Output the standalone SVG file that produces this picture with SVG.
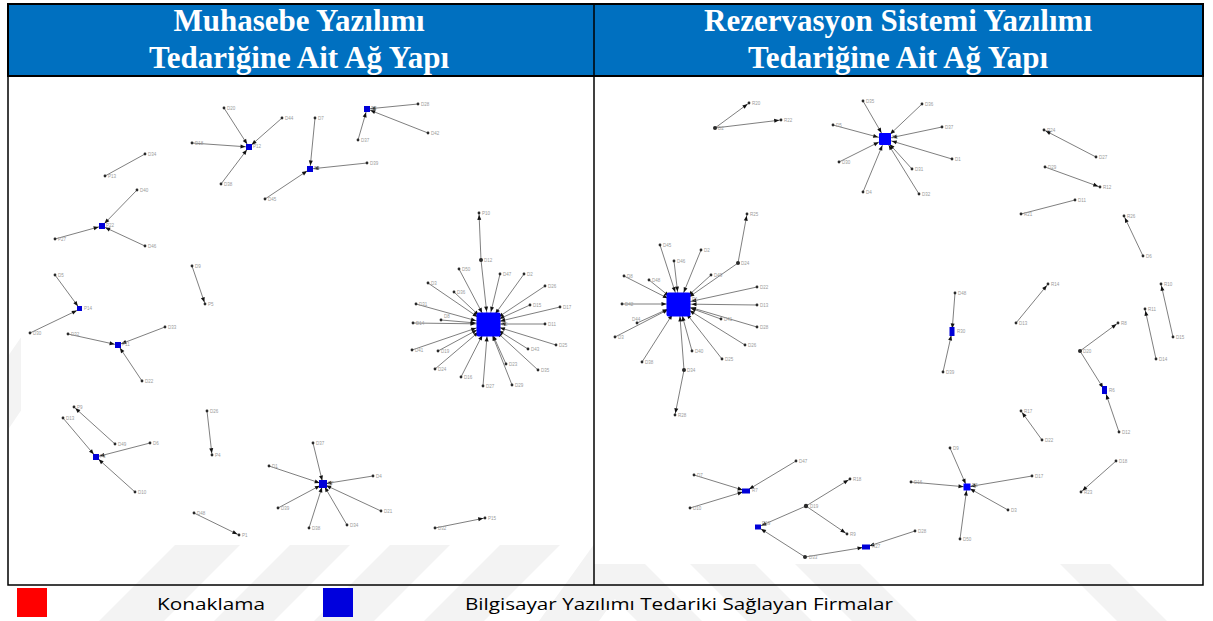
<svg xmlns="http://www.w3.org/2000/svg" width="1213" height="621" viewBox="0 0 1213 621">
<style>
.hd{font-family:"Liberation Serif","Times New Roman",serif;font-weight:bold;font-size:31px;fill:#fff;text-anchor:middle}
.lg{font-family:"Open Sans","Noto Sans","Liberation Sans",sans-serif;font-size:17px;fill:#000}
#connectors line{stroke:#707070;stroke-width:0.9}
.n circle{fill:#2a2a2a}
.n text{font-family:"Liberation Sans",Arial,sans-serif;font-size:4.5px;fill:#9a9a9a}
.hb{fill:#0000d8}
.bg{fill:#0000ff}
.rd{fill:#b02a2a}
.wm{fill:#f3f3f3}
</style>
<defs>
<marker id="a" markerUnits="userSpaceOnUse" markerWidth="10" markerHeight="10" refX="1.8" refY="0" orient="auto" overflow="visible"><path d="M0,0 L-5,-2 L-5,2 z" fill="#111"/></marker>
<marker id="am" markerUnits="userSpaceOnUse" markerWidth="10" markerHeight="10" refX="3.5" refY="0" orient="auto" overflow="visible"><path d="M0,0 L-5,-2 L-5,2 z" fill="#111"/></marker>
<marker id="aq" markerUnits="userSpaceOnUse" markerWidth="10" markerHeight="10" refX="7" refY="0" orient="auto" overflow="visible"><path d="M0,0 L-5,-2 L-5,2 z" fill="#111"/></marker>
<marker id="ab" markerUnits="userSpaceOnUse" markerWidth="10" markerHeight="10" refX="12.5" refY="0" orient="auto" overflow="visible"><path d="M0,0 L-5,-2 L-5,2 z" fill="#111"/></marker>
<clipPath id="wmclip">
<rect x="8" y="545" width="586" height="40"/>
<rect x="585" y="300" width="9" height="285"/>
<rect x="594" y="564" width="609" height="21"/>
<rect x="0" y="585" width="1213" height="36"/>
<rect x="9" y="292" width="12" height="253"/>
</clipPath>
</defs>
<rect x="0" y="0" width="1213" height="621" fill="#fff"/>
<g id="watermark" clip-path="url(#wmclip)">
<polygon class="wm" points="175,545 240,545 164,621 99,621"/>
<polygon class="wm" points="290,545 350,545 274,621 214,621"/>
<polygon class="wm" points="390,545 450,545 374,621 314,621"/>
<polygon class="wm" points="500,545 560,545 484,621 424,621"/>
<polygon class="wm" points="615,515 675,515 599,621 539,621"/>
<polygon class="wm" points="60,280 110,280 -40,500 -90,500"/>
<polygon class="wm" points="580,564 645,564 702,621 637,621"/>
<polygon class="wm" points="690,564 755,564 812,621 747,621"/>
<polygon class="wm" points="795,564 860,564 917,621 852,621"/>
<polygon class="wm" points="1060,564 1110,564 1167,621 1117,621"/>
</g>
<g id="frame">
<rect x="8" y="4" width="1195" height="72" fill="#0070c0" stroke="#000" stroke-width="2"/>
<rect x="8" y="76" width="1195" height="509" fill="none" stroke="#000" stroke-width="1.5"/>
<line x1="594" y1="4" x2="594" y2="585" stroke="#000" stroke-width="1.5"/>
</g>
<g id="header">
<text class="hd" x="299" y="31">Muhasebe Yazılımı</text>
<text class="hd" x="299" y="68">Tedariğine Ait Ağ Yapı</text>
<text class="hd" x="898" y="31">Rezervasyon Sistemi Yazılımı</text>
<text class="hd" x="898" y="68">Tedariğine Ait Ağ Yapı</text>
</g>
<g id="connectors">
<line x1="224" y1="108" x2="249" y2="147" marker-end="url(#am)"/>
<line x1="282" y1="118" x2="249" y2="147" marker-end="url(#am)"/>
<line x1="192" y1="143" x2="249" y2="147" marker-end="url(#am)"/>
<line x1="221" y1="184" x2="249" y2="147" marker-end="url(#am)"/>
<line x1="105" y1="176" x2="145" y2="154"/>
<line x1="137" y1="190" x2="102" y2="226" marker-end="url(#am)"/>
<line x1="55" y1="239" x2="102" y2="226" marker-end="url(#am)"/>
<line x1="145" y1="246" x2="102" y2="226" marker-end="url(#am)"/>
<line x1="192" y1="266" x2="205" y2="304" marker-end="url(#a)"/>
<line x1="55" y1="275" x2="80" y2="309" marker-end="url(#am)"/>
<line x1="30" y1="333" x2="80" y2="309" marker-end="url(#am)"/>
<line x1="68" y1="334" x2="118" y2="345" marker-end="url(#am)"/>
<line x1="165" y1="327" x2="118" y2="345" marker-end="url(#am)"/>
<line x1="142" y1="381" x2="118" y2="345" marker-end="url(#am)"/>
<line x1="315" y1="118" x2="310" y2="169" marker-end="url(#am)"/>
<line x1="367" y1="163" x2="310" y2="169" marker-end="url(#am)"/>
<line x1="265" y1="199" x2="310" y2="169" marker-end="url(#am)"/>
<line x1="418" y1="104" x2="367" y2="109" marker-end="url(#am)"/>
<line x1="428" y1="133" x2="367" y2="109" marker-end="url(#am)"/>
<line x1="358" y1="140" x2="367" y2="109" marker-end="url(#am)"/>
<line x1="481" y1="260" x2="479" y2="213" marker-end="url(#a)"/>
<line x1="481" y1="260" x2="488" y2="324" marker-end="url(#ab)"/>
<line x1="459" y1="269" x2="488" y2="324" marker-end="url(#ab)"/>
<line x1="500" y1="274" x2="488" y2="324" marker-end="url(#ab)"/>
<line x1="524" y1="274" x2="488" y2="324" marker-end="url(#ab)"/>
<line x1="545" y1="286" x2="488" y2="324" marker-end="url(#ab)"/>
<line x1="428" y1="283" x2="488" y2="324" marker-end="url(#ab)"/>
<line x1="454" y1="292" x2="488" y2="324" marker-end="url(#ab)"/>
<line x1="416" y1="304" x2="488" y2="324" marker-end="url(#ab)"/>
<line x1="530" y1="305" x2="488" y2="324" marker-end="url(#ab)"/>
<line x1="560" y1="307" x2="488" y2="324" marker-end="url(#ab)"/>
<line x1="441" y1="320" x2="488" y2="324" marker-end="url(#ab)"/>
<line x1="413" y1="323" x2="488" y2="324" marker-end="url(#ab)"/>
<line x1="545" y1="324" x2="488" y2="324" marker-end="url(#ab)"/>
<line x1="412" y1="350" x2="488" y2="324" marker-end="url(#ab)"/>
<line x1="438" y1="351" x2="488" y2="324" marker-end="url(#ab)"/>
<line x1="435" y1="369" x2="488" y2="324" marker-end="url(#ab)"/>
<line x1="461" y1="377" x2="488" y2="324" marker-end="url(#ab)"/>
<line x1="483" y1="386" x2="488" y2="324" marker-end="url(#ab)"/>
<line x1="512" y1="385" x2="488" y2="324" marker-end="url(#ab)"/>
<line x1="506" y1="364" x2="488" y2="324" marker-end="url(#ab)"/>
<line x1="538" y1="370" x2="488" y2="324" marker-end="url(#ab)"/>
<line x1="528" y1="349" x2="488" y2="324" marker-end="url(#ab)"/>
<line x1="556" y1="345" x2="488" y2="324" marker-end="url(#ab)"/>
<line x1="115" y1="444" x2="74" y2="407" marker-end="url(#a)"/>
<line x1="63" y1="418" x2="96" y2="457" marker-end="url(#am)"/>
<line x1="150" y1="443" x2="96" y2="457" marker-end="url(#am)"/>
<line x1="135" y1="492" x2="96" y2="457" marker-end="url(#am)"/>
<line x1="207" y1="411" x2="212" y2="455" marker-end="url(#a)"/>
<line x1="194" y1="513" x2="239" y2="535" marker-end="url(#a)"/>
<line x1="313" y1="443" x2="323" y2="484" marker-end="url(#am)"/>
<line x1="269" y1="466" x2="323" y2="484" marker-end="url(#am)"/>
<line x1="373" y1="476" x2="323" y2="484" marker-end="url(#am)"/>
<line x1="278" y1="508" x2="323" y2="484" marker-end="url(#am)"/>
<line x1="309" y1="528" x2="323" y2="484" marker-end="url(#am)"/>
<line x1="347" y1="525" x2="323" y2="484" marker-end="url(#am)"/>
<line x1="381" y1="511" x2="323" y2="484" marker-end="url(#am)"/>
<line x1="435" y1="528" x2="485" y2="518" marker-end="url(#a)"/>
<line x1="715" y1="128" x2="749" y2="103" marker-end="url(#a)"/>
<line x1="715" y1="128" x2="781" y2="120" marker-end="url(#a)"/>
<line x1="863" y1="101" x2="885" y2="139" marker-end="url(#aq)"/>
<line x1="922" y1="104" x2="885" y2="139" marker-end="url(#aq)"/>
<line x1="833" y1="125" x2="885" y2="139" marker-end="url(#aq)"/>
<line x1="942" y1="127" x2="885" y2="139" marker-end="url(#aq)"/>
<line x1="952" y1="159" x2="885" y2="139" marker-end="url(#aq)"/>
<line x1="839" y1="162" x2="885" y2="139" marker-end="url(#aq)"/>
<line x1="912" y1="169" x2="885" y2="139" marker-end="url(#aq)"/>
<line x1="919" y1="194" x2="885" y2="139" marker-end="url(#aq)"/>
<line x1="863" y1="192" x2="885" y2="139" marker-end="url(#aq)"/>
<line x1="738" y1="263" x2="747" y2="214" marker-end="url(#a)"/>
<line x1="738" y1="263" x2="679" y2="304" marker-end="url(#ab)"/>
<line x1="684" y1="370" x2="675" y2="415" marker-end="url(#a)"/>
<line x1="684" y1="370" x2="679" y2="304" marker-end="url(#ab)"/>
<line x1="660" y1="245" x2="679" y2="304" marker-end="url(#ab)"/>
<line x1="674" y1="261" x2="679" y2="304" marker-end="url(#ab)"/>
<line x1="701" y1="250" x2="679" y2="304" marker-end="url(#ab)"/>
<line x1="711" y1="275" x2="679" y2="304" marker-end="url(#ab)"/>
<line x1="624" y1="276" x2="679" y2="304" marker-end="url(#ab)"/>
<line x1="649" y1="280" x2="679" y2="304" marker-end="url(#ab)"/>
<line x1="757" y1="287" x2="679" y2="304" marker-end="url(#ab)"/>
<line x1="622" y1="304" x2="679" y2="304" marker-end="url(#ab)"/>
<line x1="757" y1="305" x2="679" y2="304" marker-end="url(#ab)"/>
<line x1="757" y1="327" x2="679" y2="304" marker-end="url(#ab)"/>
<line x1="637" y1="323" x2="679" y2="304" marker-end="url(#ab)"/>
<line x1="721" y1="319" x2="679" y2="304" marker-end="url(#ab)"/>
<line x1="615" y1="337" x2="679" y2="304" marker-end="url(#ab)"/>
<line x1="642" y1="362" x2="679" y2="304" marker-end="url(#ab)"/>
<line x1="692" y1="351" x2="679" y2="304" marker-end="url(#ab)"/>
<line x1="722" y1="359" x2="679" y2="304" marker-end="url(#ab)"/>
<line x1="745" y1="345" x2="679" y2="304" marker-end="url(#ab)"/>
<line x1="694" y1="475" x2="746" y2="491" marker-end="url(#am)"/>
<line x1="796" y1="461" x2="746" y2="491" marker-end="url(#am)"/>
<line x1="690" y1="508" x2="746" y2="491" marker-end="url(#am)"/>
<line x1="806" y1="506" x2="850" y2="479" marker-end="url(#a)"/>
<line x1="806" y1="506" x2="847" y2="534" marker-end="url(#a)"/>
<line x1="806" y1="506" x2="758" y2="527" marker-end="url(#am)"/>
<line x1="805" y1="557" x2="758" y2="527" marker-end="url(#am)"/>
<line x1="805" y1="557" x2="866" y2="547" marker-end="url(#am)"/>
<line x1="915" y1="531" x2="866" y2="547" marker-end="url(#am)"/>
<line x1="950" y1="448" x2="967" y2="487" marker-end="url(#am)"/>
<line x1="911" y1="482" x2="967" y2="487" marker-end="url(#am)"/>
<line x1="1032" y1="476" x2="967" y2="487" marker-end="url(#am)"/>
<line x1="1008" y1="510" x2="967" y2="487" marker-end="url(#am)"/>
<line x1="960" y1="539" x2="967" y2="487" marker-end="url(#am)"/>
<line x1="1042" y1="440" x2="1021" y2="411" marker-end="url(#a)"/>
<line x1="1116" y1="461" x2="1081" y2="492" marker-end="url(#a)"/>
<line x1="1080" y1="351" x2="1118" y2="323" marker-end="url(#a)"/>
<line x1="1080" y1="351" x2="1105" y2="391" marker-end="url(#am)"/>
<line x1="1119" y1="432" x2="1105" y2="391" marker-end="url(#am)"/>
<line x1="1173" y1="337" x2="1161" y2="284" marker-end="url(#a)"/>
<line x1="1156" y1="359" x2="1145" y2="309" marker-end="url(#a)"/>
<line x1="955" y1="293" x2="952" y2="332" marker-end="url(#am)"/>
<line x1="943" y1="372" x2="952" y2="332" marker-end="url(#am)"/>
<line x1="1096" y1="157" x2="1044" y2="130" marker-end="url(#a)"/>
<line x1="1045" y1="167" x2="1100" y2="187" marker-end="url(#a)"/>
<line x1="1075" y1="200" x2="1021" y2="214"/>
<line x1="1143" y1="256" x2="1124" y2="216" marker-end="url(#a)"/>
<line x1="1016" y1="323" x2="1048" y2="284" marker-end="url(#a)"/>
</g>
<g id="nodes-left">
<g class="n" id="L-P12"><rect class="hb" x="246" y="144" width="6" height="6"/><text x="253" y="148">P12</text></g>
<g class="n" id="L-D20"><circle cx="224" cy="108" r="1.4"/><text x="227" y="109.5">D20</text></g>
<g class="n" id="L-D44"><circle cx="282" cy="118" r="1.4"/><text x="285" y="119.5">D44</text></g>
<g class="n" id="L-D18"><circle cx="192" cy="143" r="1.4"/><text x="195" y="144.5">D18</text></g>
<g class="n" id="L-D38a"><circle cx="221" cy="184" r="1.4"/><text x="224" y="185.5">D38</text></g>
<g class="n" id="L-P13"><circle cx="105" cy="176" r="1.4"/><text x="108" y="177.5">P13</text></g>
<g class="n" id="L-D34a"><circle cx="145" cy="154" r="1.4"/><text x="148" y="155.5">D34</text></g>
<g class="n" id="L-P22"><rect class="hb" x="99" y="223" width="6" height="6"/><text x="106" y="227">P22</text></g>
<g class="n" id="L-D40"><circle cx="137" cy="190" r="1.4"/><text x="140" y="191.5">D40</text></g>
<g class="n" id="L-D27a"><circle cx="55" cy="239" r="1.4"/><text x="58" y="240.5">P27</text></g>
<g class="n" id="L-D46"><circle cx="145" cy="246" r="1.4"/><text x="148" y="247.5">D46</text></g>
<g class="n" id="L-D9"><circle cx="192" cy="266" r="1.4"/><text x="195" y="267.5">D9</text></g>
<g class="n" id="L-P5"><circle cx="205" cy="304" r="1.4"/><text x="208" y="305.5">P5</text></g>
<g class="n" id="L-P14"><rect class="hb" x="77" y="306" width="5" height="5"/><text x="84" y="310">P14</text></g>
<g class="n" id="L-D5"><circle cx="55" cy="275" r="1.4"/><text x="58" y="276.5">D5</text></g>
<g class="n" id="L-D30"><circle cx="30" cy="333" r="1.4"/><text x="33" y="334.5">D30</text></g>
<g class="n" id="L-P11"><rect class="hb" x="115" y="342" width="6" height="6"/><text x="122" y="346">P11</text></g>
<g class="n" id="L-D32a"><circle cx="68" cy="334" r="1.4"/><text x="71" y="335.5">D32</text></g>
<g class="n" id="L-D33"><circle cx="165" cy="327" r="1.4"/><text x="168" y="328.5">D33</text></g>
<g class="n" id="L-D22"><circle cx="142" cy="381" r="1.4"/><text x="145" y="382.5">D22</text></g>
<g class="n" id="L-P6"><rect class="hb" x="307" y="166" width="6" height="6"/><text x="314" y="170">P6</text></g>
<g class="n" id="L-D7"><circle cx="315" cy="118" r="1.4"/><text x="318" y="119.5">D7</text></g>
<g class="n" id="L-D39a"><circle cx="367" cy="163" r="1.4"/><text x="370" y="164.5">D39</text></g>
<g class="n" id="L-D45"><circle cx="265" cy="199" r="1.4"/><text x="268" y="200.5">D45</text></g>
<g class="n" id="L-P8"><rect class="hb" x="364" y="106" width="6" height="6"/><text x="371" y="110">P8</text></g>
<g class="n" id="L-D28"><circle cx="418" cy="104" r="1.4"/><text x="421" y="105.5">D28</text></g>
<g class="n" id="L-D42"><circle cx="428" cy="133" r="1.4"/><text x="431" y="134.5">D42</text></g>
<g class="n" id="L-D37a"><circle cx="358" cy="140" r="1.4"/><text x="361" y="141.5">D37</text></g>
<g class="n" id="L-P10"><circle cx="479" cy="213" r="1.4"/><text x="482" y="214.5">P10</text></g>
<g class="n" id="L-D12"><circle class="rd" cx="481" cy="260" r="2"/><text x="484" y="261.5">D12</text></g>
<g class="n" id="L-D50"><circle cx="459" cy="269" r="1.4"/><text x="462" y="270.5">D50</text></g>
<g class="n" id="L-D47"><circle cx="500" cy="274" r="1.4"/><text x="503" y="275.5">D47</text></g>
<g class="n" id="L-D2"><circle cx="524" cy="274" r="1.4"/><text x="527" y="275.5">D2</text></g>
<g class="n" id="L-D26a"><circle cx="545" cy="286" r="1.4"/><text x="548" y="287.5">D26</text></g>
<g class="n" id="L-D3"><circle cx="428" cy="283" r="1.4"/><text x="431" y="284.5">D3</text></g>
<g class="n" id="L-D36"><circle cx="454" cy="292" r="1.4"/><text x="457" y="293.5">D36</text></g>
<g class="n" id="L-D31"><circle cx="416" cy="304" r="1.4"/><text x="419" y="305.5">D31</text></g>
<g class="n" id="L-D15"><circle cx="530" cy="305" r="1.4"/><text x="533" y="306.5">D15</text></g>
<g class="n" id="L-D17"><circle cx="560" cy="307" r="1.4"/><text x="563" y="308.5">D17</text></g>
<g class="n" id="L-D8"><circle cx="441" cy="320" r="1.4"/><text x="444" y="318">D8</text></g>
<g class="n" id="L-D14"><circle cx="413" cy="323" r="1.4"/><text x="416" y="324.5">D14</text></g>
<g class="n" id="L-D11"><circle cx="545" cy="324" r="1.4"/><text x="548" y="325.5">D11</text></g>
<g class="n" id="L-D41"><circle cx="412" cy="350" r="1.4"/><text x="415" y="351.5">D41</text></g>
<g class="n" id="L-D19"><circle cx="438" cy="351" r="1.4"/><text x="441" y="352.5">D19</text></g>
<g class="n" id="L-D24"><circle cx="435" cy="369" r="1.4"/><text x="438" y="370.5">D24</text></g>
<g class="n" id="L-D16"><circle cx="461" cy="377" r="1.4"/><text x="464" y="378.5">D16</text></g>
<g class="n" id="L-D27"><circle cx="483" cy="386" r="1.4"/><text x="486" y="387.5">D27</text></g>
<g class="n" id="L-D29"><circle cx="512" cy="385" r="1.4"/><text x="515" y="386.5">D29</text></g>
<g class="n" id="L-D23"><circle cx="506" cy="364" r="1.4"/><text x="509" y="365.5">D23</text></g>
<g class="n" id="L-D35"><circle cx="538" cy="370" r="1.4"/><text x="541" y="371.5">D35</text></g>
<g class="n" id="L-D43"><circle cx="528" cy="349" r="1.4"/><text x="531" y="350.5">D43</text></g>
<g class="n" id="L-D25"><circle cx="556" cy="345" r="1.4"/><text x="559" y="346.5">D25</text></g>
<g class="n" id="L-P2"><rect class="bg" x="476.5" y="312.5" width="24" height="24" rx="2"/><text x="502" y="326">P2</text></g>
<g class="n" id="L-P9"><circle cx="74" cy="407" r="1.4"/><text x="77" y="408.5">P9</text></g>
<g class="n" id="L-D49"><circle cx="115" cy="444" r="1.4"/><text x="118" y="445.5">D49</text></g>
<g class="n" id="L-P3"><rect class="hb" x="93" y="454" width="6" height="6"/><text x="100" y="458">P3</text></g>
<g class="n" id="L-D13"><circle cx="63" cy="418" r="1.4"/><text x="66" y="419.5">D13</text></g>
<g class="n" id="L-D6"><circle cx="150" cy="443" r="1.4"/><text x="153" y="444.5">D6</text></g>
<g class="n" id="L-D10"><circle cx="135" cy="492" r="1.4"/><text x="138" y="493.5">D10</text></g>
<g class="n" id="L-D26"><circle cx="207" cy="411" r="1.4"/><text x="210" y="412.5">D26</text></g>
<g class="n" id="L-P4"><circle cx="212" cy="455" r="1.4"/><text x="215" y="456.5">P4</text></g>
<g class="n" id="L-D48"><circle cx="194" cy="513" r="1.4"/><text x="197" y="514.5">D48</text></g>
<g class="n" id="L-P1"><circle cx="239" cy="535" r="1.4"/><text x="242" y="536.5">P1</text></g>
<g class="n" id="L-P7"><rect class="hb" x="319" y="480" width="8" height="8"/><text x="328" y="485">P7</text></g>
<g class="n" id="L-D37"><circle cx="313" cy="443" r="1.4"/><text x="316" y="444.5">D37</text></g>
<g class="n" id="L-D1"><circle cx="269" cy="466" r="1.4"/><text x="272" y="467.5">D1</text></g>
<g class="n" id="L-D4"><circle cx="373" cy="476" r="1.4"/><text x="376" y="477.5">D4</text></g>
<g class="n" id="L-D39"><circle cx="278" cy="508" r="1.4"/><text x="281" y="509.5">D39</text></g>
<g class="n" id="L-D38"><circle cx="309" cy="528" r="1.4"/><text x="312" y="529.5">D38</text></g>
<g class="n" id="L-D34"><circle cx="347" cy="525" r="1.4"/><text x="350" y="526.5">D34</text></g>
<g class="n" id="L-D21"><circle cx="381" cy="511" r="1.4"/><text x="384" y="512.5">D21</text></g>
<g class="n" id="L-D32"><circle cx="435" cy="528" r="1.4"/><text x="438" y="529.5">D32</text></g>
<g class="n" id="L-P15"><circle cx="485" cy="518" r="1.4"/><text x="488" y="519.5">P15</text></g>
</g>
<g id="nodes-right">
<g class="n" id="R-D2"><circle class="rd" cx="715" cy="128" r="2"/><text x="718" y="129.5">D2</text></g>
<g class="n" id="R-R20"><circle cx="749" cy="103" r="1.4"/><text x="752" y="104.5">R20</text></g>
<g class="n" id="R-R22"><circle cx="781" cy="120" r="1.4"/><text x="784" y="121.5">R22</text></g>
<g class="n" id="R-D35"><circle cx="863" cy="101" r="1.4"/><text x="866" y="102.5">D35</text></g>
<g class="n" id="R-D36"><circle cx="922" cy="104" r="1.4"/><text x="925" y="105.5">D36</text></g>
<g class="n" id="R-D5"><circle cx="833" cy="125" r="1.4"/><text x="836" y="126.5">D5</text></g>
<g class="n" id="R-D37"><circle cx="942" cy="127" r="1.4"/><text x="945" y="128.5">D37</text></g>
<g class="n" id="R-D1"><circle cx="952" cy="159" r="1.4"/><text x="955" y="160.5">D1</text></g>
<g class="n" id="R-D30"><circle cx="839" cy="162" r="1.4"/><text x="842" y="163.5">D30</text></g>
<g class="n" id="R-D31"><circle cx="912" cy="169" r="1.4"/><text x="915" y="170.5">D31</text></g>
<g class="n" id="R-D32"><circle cx="919" cy="194" r="1.4"/><text x="922" y="195.5">D32</text></g>
<g class="n" id="R-D4"><circle cx="863" cy="192" r="1.4"/><text x="866" y="193.5">D4</text></g>
<g class="n" id="R-R3"><rect class="bg" x="879" y="133" width="12" height="12" rx="1"/><text x="892" y="139">R3</text></g>
<g class="n" id="R-R25"><circle cx="747" cy="214" r="1.4"/><text x="750" y="215.5">R25</text></g>
<g class="n" id="R-D24"><circle class="rd" cx="738" cy="263" r="2"/><text x="741" y="264.5">D24</text></g>
<g class="n" id="R-D34"><circle class="rd" cx="684" cy="370" r="2"/><text x="687" y="371.5">D34</text></g>
<g class="n" id="R-R28"><circle cx="675" cy="415" r="1.4"/><text x="678" y="416.5">R28</text></g>
<g class="n" id="R-D45"><circle cx="660" cy="245" r="1.4"/><text x="663" y="246.5">D45</text></g>
<g class="n" id="R-D46"><circle cx="674" cy="261" r="1.4"/><text x="677" y="262.5">D46</text></g>
<g class="n" id="R-D2b"><circle cx="701" cy="250" r="1.4"/><text x="704" y="251.5">D2</text></g>
<g class="n" id="R-D49"><circle cx="711" cy="275" r="1.4"/><text x="714" y="276.5">D49</text></g>
<g class="n" id="R-D8"><circle cx="624" cy="276" r="1.4"/><text x="627" y="277.5">D8</text></g>
<g class="n" id="R-D48b"><circle cx="649" cy="280" r="1.4"/><text x="652" y="281.5">D48</text></g>
<g class="n" id="R-D22"><circle cx="757" cy="287" r="1.4"/><text x="760" y="288.5">D22</text></g>
<g class="n" id="R-D42"><circle cx="622" cy="304" r="1.4"/><text x="625" y="305.5">D42</text></g>
<g class="n" id="R-D13b"><circle cx="757" cy="305" r="1.4"/><text x="760" y="306.5">D13</text></g>
<g class="n" id="R-D28b"><circle cx="757" cy="327" r="1.4"/><text x="760" y="328.5">D28</text></g>
<g class="n" id="R-D44"><circle cx="637" cy="323" r="1.4"/><text x="632" y="321">D44</text></g>
<g class="n" id="R-D41"><circle cx="721" cy="319" r="1.4"/><text x="724" y="320.5">D41</text></g>
<g class="n" id="R-D3b"><circle cx="615" cy="337" r="1.4"/><text x="618" y="338.5">D3</text></g>
<g class="n" id="R-D38"><circle cx="642" cy="362" r="1.4"/><text x="645" y="363.5">D38</text></g>
<g class="n" id="R-D40"><circle cx="692" cy="351" r="1.4"/><text x="695" y="352.5">D40</text></g>
<g class="n" id="R-D25"><circle cx="722" cy="359" r="1.4"/><text x="725" y="360.5">D25</text></g>
<g class="n" id="R-D26"><circle cx="745" cy="345" r="1.4"/><text x="748" y="346.5">D26</text></g>
<g class="n" id="R-R1"><rect class="bg" x="666.5" y="292.5" width="24" height="24" rx="2"/><text x="692" y="301">R1</text></g>
<g class="n" id="R-D7"><circle cx="694" cy="475" r="1.4"/><text x="697" y="476.5">D7</text></g>
<g class="n" id="R-D47"><circle cx="796" cy="461" r="1.4"/><text x="799" y="462.5">D47</text></g>
<g class="n" id="R-D10"><circle cx="690" cy="508" r="1.4"/><text x="693" y="509.5">D10</text></g>
<g class="n" id="R-R7"><rect class="hb" x="742" y="488.5" width="8" height="5"/><text x="752" y="492">R7</text></g>
<g class="n" id="R-D19"><circle class="rd" cx="806" cy="506" r="2.2"/><text x="810" y="507.5">D19</text></g>
<g class="n" id="R-R18"><circle cx="850" cy="479" r="1.4"/><text x="853" y="480.5">R18</text></g>
<g class="n" id="R-R9"><circle cx="847" cy="534" r="1.4"/><text x="850" y="535.5">R9</text></g>
<g class="n" id="R-R19"><rect class="hb" x="755" y="524.5" width="6" height="5"/><text x="762" y="525">R19</text></g>
<g class="n" id="R-D33"><circle class="rd" cx="805" cy="557" r="2"/><text x="809" y="558.5">D33</text></g>
<g class="n" id="R-R27"><rect class="hb" x="862" y="544.5" width="8" height="5"/><text x="872" y="548">R27</text></g>
<g class="n" id="R-D28"><circle cx="915" cy="531" r="1.4"/><text x="918" y="532.5">D28</text></g>
<g class="n" id="R-R5"><rect class="bg" x="963.5" y="483.5" width="7" height="7"/><text x="972" y="487">R5</text></g>
<g class="n" id="R-D9"><circle cx="950" cy="448" r="1.4"/><text x="953" y="449.5">D9</text></g>
<g class="n" id="R-D16"><circle cx="911" cy="482" r="1.4"/><text x="914" y="483.5">D16</text></g>
<g class="n" id="R-D17"><circle cx="1032" cy="476" r="1.4"/><text x="1035" y="477.5">D17</text></g>
<g class="n" id="R-D3"><circle cx="1008" cy="510" r="1.4"/><text x="1011" y="511.5">D3</text></g>
<g class="n" id="R-D50"><circle cx="960" cy="539" r="1.4"/><text x="963" y="540.5">D50</text></g>
<g class="n" id="R-R17"><circle cx="1021" cy="411" r="1.4"/><text x="1024" y="412.5">R17</text></g>
<g class="n" id="R-D22b"><circle cx="1042" cy="440" r="1.4"/><text x="1045" y="441.5">D22</text></g>
<g class="n" id="R-D18"><circle cx="1116" cy="461" r="1.4"/><text x="1119" y="462.5">D18</text></g>
<g class="n" id="R-R23"><circle cx="1081" cy="492" r="1.4"/><text x="1084" y="493.5">R23</text></g>
<g class="n" id="R-D20"><circle class="rd" cx="1080" cy="351" r="2"/><text x="1083" y="352.5">D20</text></g>
<g class="n" id="R-R8"><circle cx="1118" cy="323" r="1.4"/><text x="1121" y="324.5">R8</text></g>
<g class="n" id="R-R6"><rect class="hb" x="1102" y="386" width="5" height="8"/><text x="1109" y="392">R6</text></g>
<g class="n" id="R-D12"><circle cx="1119" cy="432" r="1.4"/><text x="1122" y="433.5">D12</text></g>
<g class="n" id="R-R10"><circle cx="1161" cy="284" r="1.4"/><text x="1164" y="285.5">R10</text></g>
<g class="n" id="R-D15"><circle cx="1173" cy="337" r="1.4"/><text x="1176" y="338.5">D15</text></g>
<g class="n" id="R-R11"><circle cx="1145" cy="309" r="1.4"/><text x="1148" y="310.5">R11</text></g>
<g class="n" id="R-D14"><circle cx="1156" cy="359" r="1.4"/><text x="1159" y="360.5">D14</text></g>
<g class="n" id="R-D48"><circle cx="955" cy="293" r="1.4"/><text x="958" y="294.5">D48</text></g>
<g class="n" id="R-R30"><rect class="hb" x="949.5" y="327" width="5" height="9"/><text x="957" y="333">R30</text></g>
<g class="n" id="R-D39"><circle cx="943" cy="372" r="1.4"/><text x="946" y="373.5">D39</text></g>
<g class="n" id="R-R24"><circle cx="1044" cy="130" r="1.4"/><text x="1047" y="131.5">R24</text></g>
<g class="n" id="R-D27"><circle cx="1096" cy="157" r="1.4"/><text x="1099" y="158.5">D27</text></g>
<g class="n" id="R-D29"><circle cx="1045" cy="167" r="1.4"/><text x="1048" y="168.5">D29</text></g>
<g class="n" id="R-R12"><circle cx="1100" cy="187" r="1.4"/><text x="1103" y="188.5">R12</text></g>
<g class="n" id="R-D11"><circle cx="1075" cy="200" r="1.4"/><text x="1078" y="201.5">D11</text></g>
<g class="n" id="R-R21"><circle cx="1021" cy="214" r="1.4"/><text x="1024" y="215.5">R21</text></g>
<g class="n" id="R-R26"><circle cx="1124" cy="216" r="1.4"/><text x="1127" y="217.5">R26</text></g>
<g class="n" id="R-D6"><circle cx="1143" cy="256" r="1.4"/><text x="1146" y="257.5">D6</text></g>
<g class="n" id="R-R14"><circle cx="1048" cy="284" r="1.4"/><text x="1051" y="285.5">R14</text></g>
<g class="n" id="R-D13"><circle cx="1016" cy="323" r="1.4"/><text x="1019" y="324.5">D13</text></g>
</g>
<g id="legend">
<rect x="17" y="588" width="30" height="29" fill="#ff0000"/>
<text class="lg" x="157" y="610" textLength="108" lengthAdjust="spacingAndGlyphs">Konaklama</text>
<rect x="323" y="588" width="30" height="29" fill="#0000dd"/>
<text class="lg" x="465" y="610" textLength="428" lengthAdjust="spacingAndGlyphs">Bilgisayar Yazılımı Tedariki Sağlayan Firmalar</text>
</g>
</svg>
